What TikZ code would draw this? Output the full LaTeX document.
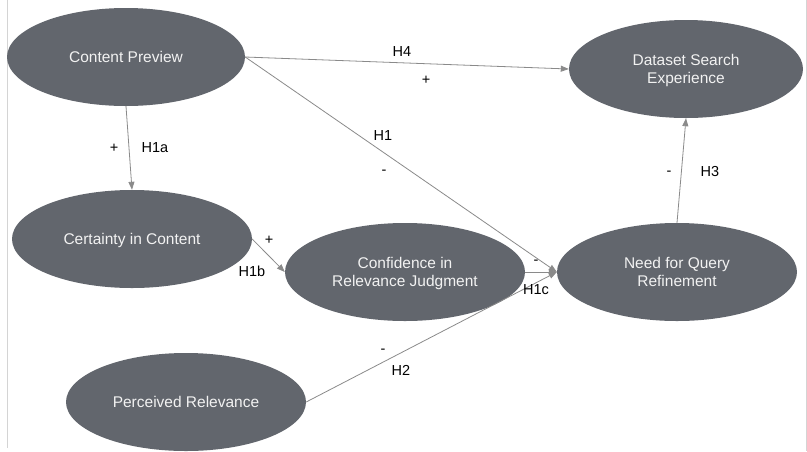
\documentclass[tikz,border=0pt]{standalone}
\usepackage{fontspec}
\setmainfont{Liberation Sans}
\usetikzlibrary{shapes.geometric,arrows.meta}
\definecolor{nodegray}{RGB}{98,102,109}
\definecolor{edgegray}{RGB}{138,138,138}
\definecolor{bordergray}{RGB}{212,212,212}
\definecolor{txtgray}{RGB}{242,242,242}
\begin{document}
\begin{tikzpicture}[x=1pt,y=-1pt,
  construct/.style={ellipse, fill=nodegray, draw=none, minimum width=240pt, minimum height=98pt, inner sep=0pt, text=txtgray, font=\fontsize{15.5}{18.5}\selectfont, align=center},
  oneline/.style={text height=11pt, text depth=-4.5pt},
  twoline/.style={text height=29.5pt, text depth=-4.5pt},
  link/.style={draw=edgegray, line width=0.8pt, -{Triangle[length=8pt,width=6pt]}},
  lbl/.style={font=\fontsize{14.5}{16}\selectfont, text=black, inner sep=0pt}]
\useasboundingbox (0,0) rectangle (807,451);
\draw[bordergray, line width=1pt] (7.5,0) -- (7.5,448);
\draw[bordergray, line width=1pt] (806.5,0) -- (806.5,451);

\node[construct, oneline, minimum width=238pt] (cp) at (126,57) {Content Preview};
\node[construct, twoline, minimum width=234pt] (dse) at (686,69) {Dataset Search\\Experience};
\node[construct, oneline] (cic) at (132,239) {Certainty in Content};
\node[construct, twoline] (crj) at (405,272) {Confidence in\\Relevance Judgment};
\node[construct, twoline] (nqr) at (677,272) {Need for Query\\Refinement};
\node[construct, oneline] (pr) at (186,402) {Perceived Relevance};

\draw[link] (cp.east) -- (dse.west);
\draw[link] (cp.east) -- (nqr.west);
\draw[link] (cp.south) -- (cic.north);
\draw[link] (cic.east) -- (crj.west);
\draw[link] (crj.east) -- (nqr.west);
\draw[link] (pr.east) -- (nqr.west);
\draw[link] (nqr.north) -- (dse.south);

\node[lbl] (h4) at (402,52) {H4};
\node[lbl] (h4s) at (426,80) {+};
\node[lbl] (h1) at (383,136) {H1};
\node[lbl] (h1s) at (384,172) {-};
\node[lbl] (h1as) at (114,148) {+};
\node[lbl] (h1a) at (155,148) {H1a};
\node[lbl] (h1bs) at (269,240) {+};
\node[lbl] (h1b) at (252,271) {H1b};
\node[lbl] (h1cs) at (536,262) {-};
\node[lbl] (h1c) at (536,290) {H1c};
\node[lbl] (h2s) at (383,351) {-};
\node[lbl] (h2) at (401,370) {H2};
\node[lbl] (h3s) at (669,173) {-};
\node[lbl] (h3) at (710,172) {H3};
\end{tikzpicture}
\end{document}
